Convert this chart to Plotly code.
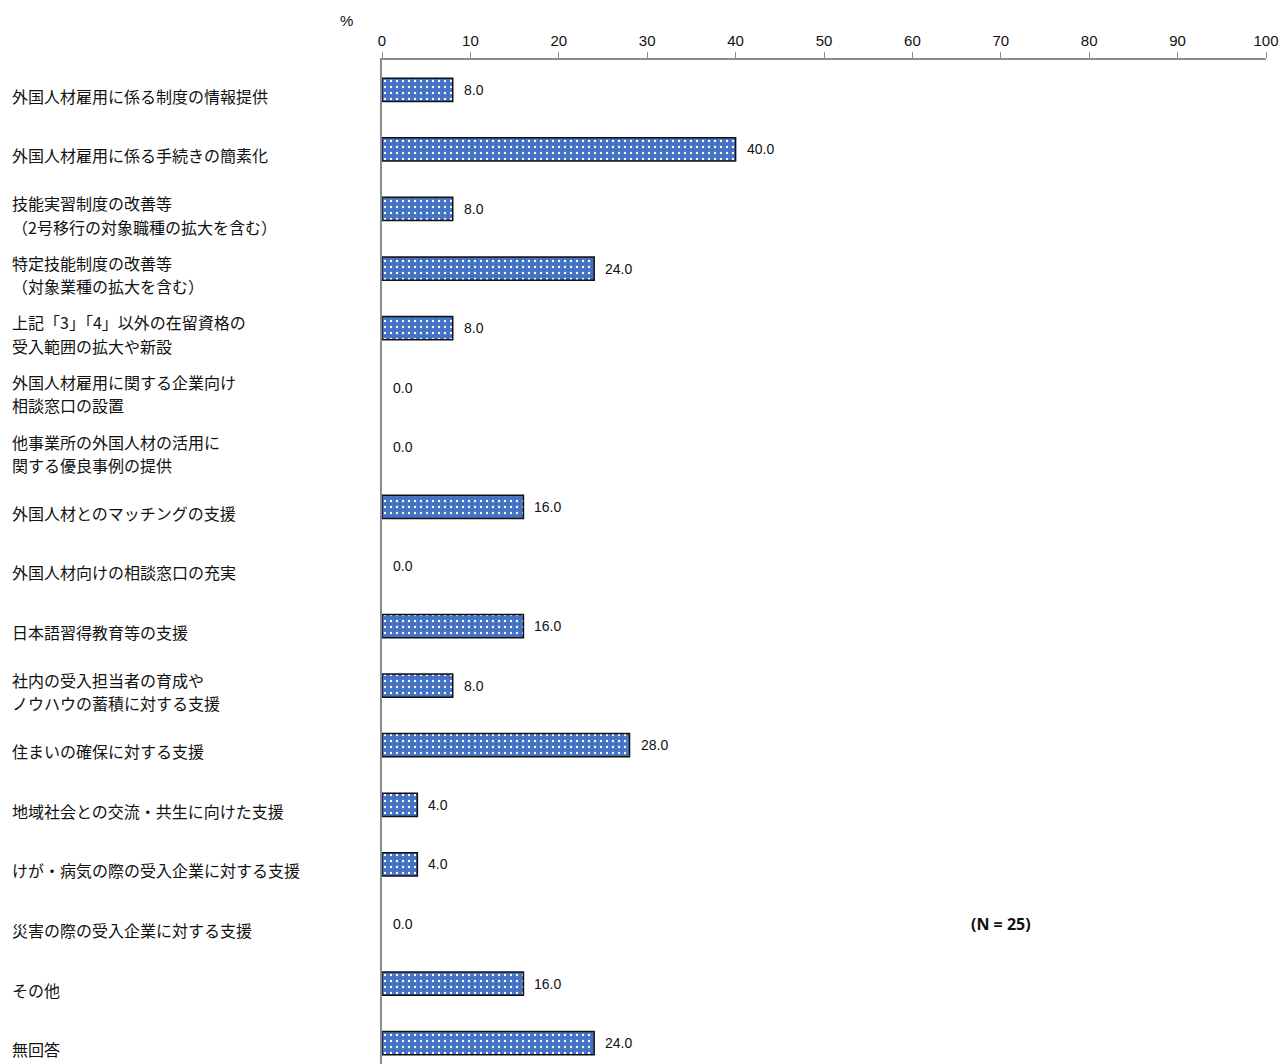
import plotly.graph_objects as go

# Survey items (top to bottom) and share of respondents (%)
categories = [
    "外国人材雇用に係る制度の情報提供",
    "外国人材雇用に係る手続きの簡素化",
    "技能実習制度の改善等<br>（2号移行の対象職種の拡大を含む）",
    "特定技能制度の改善等<br>（対象業種の拡大を含む）",
    "上記「3」「4」以外の在留資格の<br>受入範囲の拡大や新設",
    "外国人材雇用に関する企業向け<br>相談窓口の設置",
    "他事業所の外国人材の活用に<br>関する優良事例の提供",
    "外国人材とのマッチングの支援",
    "外国人材向けの相談窓口の充実",
    "日本語習得教育等の支援",
    "社内の受入担当者の育成や<br>ノウハウの蓄積に対する支援",
    "住まいの確保に対する支援",
    "地域社会との交流・共生に向けた支援",
    "けが・病気の際の受入企業に対する支援",
    "災害の際の受入企業に対する支援",
    "その他",
    "無回答",
]
values = [8.0, 40.0, 8.0, 24.0, 8.0, 0.0, 0.0, 16.0, 0.0, 16.0, 8.0, 28.0, 4.0, 4.0, 0.0, 16.0, 24.0]
x_ticks = [0, 10, 20, 30, 40, 50, 60, 70, 80, 90, 100]
sample_note = "(N = 25)"

JP_FONT = "Noto Sans CJK JP"
LINE_GAP = 23.5  # px between the lines of a two-line label
idx = list(range(len(categories)))

fig = go.Figure()
fig.add_trace(go.Bar(
    x=values,
    y=idx,
    orientation="h",
    width=0.39,
    marker=dict(
        color="#4472C4",
        # zero-length bars get no outline so nothing shows at the axis
        line=dict(color="#111111", width=[1.5 if v > 0 else 0 for v in values]),
        pattern=dict(shape=".", fgcolor="#FFFFFF", bgcolor="#4472C4",
                     size=6, solidity=0.12, fillmode="replace"),
    ),
    hoverinfo="skip",
))

annotations = []
# category labels, left aligned at the figure's left edge; each line placed on its own
for i, label in enumerate(categories):
    lines = label.split("<br>")
    n = len(lines)
    for k, line in enumerate(lines):
        offset = (k - (n - 1) / 2) * LINE_GAP
        annotations.append(dict(
            x=0, xref="paper", xshift=-372, xanchor="left",
            y=i, yref="y", yanchor="middle", yshift=-6 - offset,
            text=line, showarrow=False, align="left",
            font=dict(family=JP_FONT, size=16, color="#111111"),
        ))
# value labels to the right of each bar
for i, v in enumerate(values):
    annotations.append(dict(
        x=v, xref="x", xanchor="left", xshift=9,
        y=i, yref="y", yanchor="middle",
        text=f"{v:.1f}", showarrow=False,
        font=dict(family="Liberation Sans, Arial", size=14, color="#111111"),
    ))
annotations.append(dict(
    x=0, xref="paper", xshift=-36, xanchor="center",
    y=1, yref="paper", yshift=40, yanchor="middle",
    text="%", showarrow=False,
    font=dict(family="Liberation Sans, Arial", size=15, color="#111111"),
))
annotations.append(dict(
    x=70, xref="x", xanchor="center",
    y=14, yref="y", yanchor="middle",
    text=f"<b>{sample_note}</b>", showarrow=False,
    font=dict(family="Open Sans, Liberation Sans", size=16, color="#111111"),
))

fig.update_layout(
    width=1280, height=1064,
    margin=dict(l=382, r=14, t=60, b=0),
    paper_bgcolor="white", plot_bgcolor="white",
    showlegend=False,
    annotations=annotations,
    xaxis=dict(
        side="top", range=[0, 100], tickvals=x_ticks,
        ticks="outside", ticklen=6, tickcolor="#8C8C8C", tickwidth=1,
        showline=True, linecolor="#8C8C8C", linewidth=1.5,
        showgrid=False, zeroline=False,
        tickfont=dict(family="Liberation Sans, Arial", size=15, color="#111111"),
    ),
    yaxis=dict(
        range=[16.35, -0.5], showticklabels=False, ticks="",
        showline=True, linecolor="#8C8C8C", linewidth=1.5,
        showgrid=False, zeroline=False,
    ),
)

fig.write_html("out.html")
